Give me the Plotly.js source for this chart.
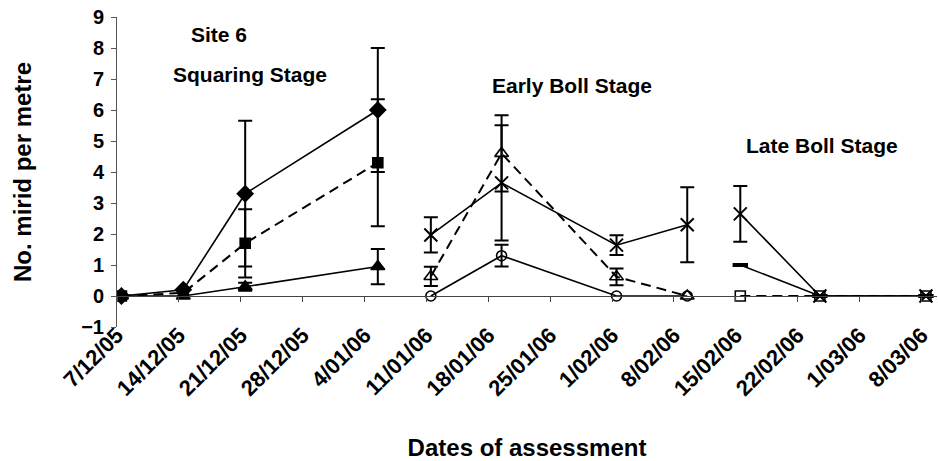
<!DOCTYPE html>
<html>
<head>
<meta charset="utf-8">
<script src="https://cdn.plot.ly/plotly-3.0.1.min.js"></script>
<style>html,body{margin:0;padding:0;background:#fff;}#chart{width:938px;height:461px;}</style>
</head>
<body>
<div id="chart"></div>
<script>
// ---- Data ----
const tickLabels = ['7/12/05','14/12/05','21/12/05','28/12/05','4/01/06','11/01/06','18/01/06','25/01/06','1/02/06','8/02/06','15/02/06','22/02/06','1/03/06','8/03/06'];
const tickDates = ['2005-12-07','2005-12-14','2005-12-21','2005-12-28','2006-01-04','2006-01-11','2006-01-18','2006-01-25','2006-02-01','2006-02-08','2006-02-15','2006-02-22','2006-03-01','2006-03-08'];

// Squaring stage
const squaringDates = ['2005-12-07','2005-12-14','2005-12-21','2006-01-05'];
const sqDiamond = [0, 0.2, 3.3, 6.0];
const sqDiamondErr = [null, null, 2.35, 2.0];
const sqSquare = [0, 0.1, 1.7, 4.3];
const sqSquareErr = [null, null, 1.1, 2.05];
const sqTriangle = [0, 0, 0.3, 0.95];
const sqTriangleErr = [null, null, 0.13, 0.57];

// Early boll stage
const earlyDates = ['2006-01-11','2006-01-19','2006-02-01','2006-02-09'];
const ebCross = [1.97, 3.65, 1.64, 2.3];
const ebCrossErr = [0.57, 1.86, 0.32, 1.21];
const ebTriangle = [0.63, 4.6, 0.62, 0];
const ebTriangleErr = [0.31, 1.23, 0.27, null];
const ebCircle = [0, 1.3, 0, 0];
const ebCircleErr = [null, 0.35, null, null];

// Late boll stage
const lateDates = ['2006-02-15','2006-02-24','2006-03-08'];
const lbCross = [2.65, 0, 0];
const lbCrossErr = [0.9, null, null];
const lbDash = [1.0, 0, 0];
const lbSquare = [0, 0, 0];

const stageLabels = ['Site 6', 'Squaring Stage', 'Early Boll Stage', 'Late Boll Stage'];

// ---- Helpers ----
const FONT = 'Liberation Sans, Arial, Helvetica, sans-serif';
function shiftHalfDay(d) {
  const t = new Date(d + 'T00:00:00Z').getTime() - 12 * 3600 * 1000;
  const iso = new Date(t).toISOString();
  return iso.slice(0, 10) + ' ' + iso.slice(11, 16);
}
const tickVals = tickDates.map(shiftHalfDay);
function errs(a) { return a.map(v => (v === null ? NaN : v)); }
function eb(a) {
  return {type: 'data', array: errs(a), symmetric: true, visible: true, color: '#000', thickness: 2, width: 7};
}
function tr(x, y, sym, size, dash, err, extra) {
  const t = {
    x: x, y: y, type: 'scatter', mode: 'lines+markers',
    line: {color: '#000', width: dash === 'solid' ? 1.6 : 2, dash: dash},
    marker: {symbol: sym, size: size, color: '#000', line: {color: '#000', width: 1.6}},
    showlegend: false, hoverinfo: 'x+y'
  };
  if (err) t.error_y = eb(err);
  return Object.assign(t, extra || {});
}

const data = [
  tr(squaringDates, sqDiamond, 'diamond', 12, 'solid', sqDiamondErr),
  tr(squaringDates, sqSquare, 'square', 10, '10px,6px', sqSquareErr),
  tr(squaringDates, sqTriangle, 'triangle-up', 12, 'solid', sqTriangleErr),
  tr(earlyDates, ebCross, 'x-thin-open', 13, 'solid', ebCrossErr, {marker: {symbol: 'x-thin-open', size: 13, color: '#000', line: {color: '#000', width: 2}}}),
  tr(earlyDates, ebTriangle, 'triangle-up-open', 12, '10px,6px', ebTriangleErr),
  tr(earlyDates, ebCircle, 'circle-open', 10, 'solid', ebCircleErr),
  tr(lateDates, lbCross, 'x-thin-open', 13, 'solid', lbCrossErr, {marker: {symbol: 'x-thin-open', size: 13, color: '#000', line: {color: '#000', width: 2}}}),
  tr(lateDates, lbDash, 'line-ew-open', 11, 'solid', null, {marker: {symbol: 'line-ew-open', size: 11, color: '#000', line: {color: '#000', width: 4}}}),
  tr(lateDates, lbSquare, 'square-open', 10, '10px,6px', null, {xaxis: 'x2'})
];

const xRange = ['2005-12-06 12:00', '2006-03-09 06:00'];

const layout = {
  width: 938, height: 461,
  margin: {l: 117, r: 1, t: 17, b: 134},
  paper_bgcolor: '#fff', plot_bgcolor: '#fff',
  font: {family: FONT, color: '#000'},
  showlegend: false,
  xaxis: {
    type: 'date', range: xRange,
    tickmode: 'array', tickvals: tickVals, ticktext: tickLabels,
    tickangle: -45, ticks: '', showline: false, showgrid: false, zeroline: false,
    ticklabelstandoff: -10,
    tickfont: {family: FONT, size: 22, weight: 700, color: '#000'},
    title: {text: 'Dates of assessment', font: {family: FONT, size: 24, weight: 700, color: '#000'}, standoff: 40}
  },
  xaxis2: {
    type: 'date', overlaying: 'x', matches: 'x', anchor: 'free', position: 0.1,
    range: xRange, tickmode: 'array', tickvals: tickVals,
    showticklabels: false, ticks: 'outside', ticklen: 5, tickcolor: '#444', tickwidth: 1,
    showline: true, linecolor: '#444', linewidth: 1, showgrid: false, zeroline: false
  },
  yaxis: {
    range: [-1, 9], tick0: 0, dtick: 1,
    ticks: 'outside', ticklen: 5, tickcolor: '#555', tickwidth: 1,
    showline: true, linecolor: '#555', linewidth: 1, showgrid: false, zeroline: false,
    ticklabelstandoff: 3,
    tickfont: {family: FONT, size: 20, weight: 700, color: '#000'},
    title: {text: 'No. mirid per metre', font: {family: FONT, size: 24, weight: 700, color: '#000'}, standoff: 42}
  },
  annotations: [
    {text: stageLabels[0], x: 0.1244, y: 0.9435},
    {text: stageLabels[1], x: 0.1628, y: 0.8161},
    {text: stageLabels[2], x: 0.5549, y: 0.7797},
    {text: stageLabels[3], x: 0.8595, y: 0.5845}
  ].map(a => Object.assign({xref: 'paper', yref: 'paper', showarrow: false, xanchor: 'center', yanchor: 'middle',
    font: {family: FONT, size: 21, weight: 700, color: '#000'}}, a))
};

Plotly.newPlot('chart', data, layout, {staticPlot: true, displayModeBar: false});
</script>
</body>
</html>
